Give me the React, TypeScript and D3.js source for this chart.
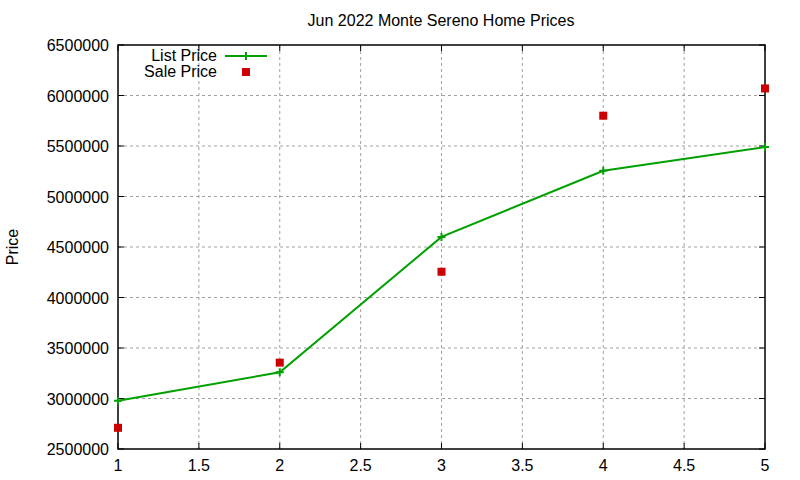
import * as React from 'react'
import * as d3 from 'd3'

const xValues = [1, 2, 3, 4, 5]
const listPrice = [2978000, 3260000, 4600000, 5255000, 5490000]
const salePrice = [2710000, 3355000, 4255000, 5800000, 6070000]
const xTicks = [1, 1.5, 2, 2.5, 3, 3.5, 4, 4.5, 5]
const yTicks = [2500000, 3000000, 3500000, 4000000, 4500000, 5000000, 5500000, 6000000, 6500000]

const W = 800
const H = 480
const left = 118
const right = 765
const top = 45
const bottom = 449
const font = '"Liberation Sans", Arial, sans-serif'

const App = () => {
  const x = d3.scaleLinear().domain([1, 5]).range([left, right])
  const y = d3.scaleLinear().domain([2500000, 6500000]).range([bottom, top])

  const line = d3.line<number>()
    .x((d, i) => x(xValues[i]))
    .y(d => y(d))

  const green = '#00a000'
  const red = '#cc0000'

  return (
    <svg width={W} height={H} style={{position: 'absolute', left: 0, top: 0}} fontFamily={font}>
      <rect width={W} height={H} fill='white' />
      {/* grid */}
      {xTicks.slice(1, -1).map(t => (
        <line key={'gx' + t} x1={x(t)} x2={x(t)} y1={top} y2={bottom} stroke='#a0a0a0' strokeDasharray='3,3' />
      ))}
      {yTicks.slice(1, -1).map(t => (
        <line key={'gy' + t} x1={left} x2={right} y1={y(t)} y2={y(t)} stroke='#a0a0a0' strokeDasharray='3,3' />
      ))}
      {/* ticks */}
      {xTicks.map(t => (
        <g key={'tx' + t}>
          <line x1={x(t)} x2={x(t)} y1={bottom} y2={bottom - 6} stroke='black' />
          <line x1={x(t)} x2={x(t)} y1={top} y2={top + 6} stroke='black' />
          <text x={x(t)} y={bottom + 22} textAnchor='middle' fontSize={16}>{t}</text>
        </g>
      ))}
      {yTicks.map(t => (
        <g key={'ty' + t}>
          <line x1={left} x2={left + 6} y1={y(t)} y2={y(t)} stroke='black' />
          <line x1={right} x2={right - 6} y1={y(t)} y2={y(t)} stroke='black' />
          <text x={left - 9} y={y(t) + 6} textAnchor='end' fontSize={16}>{t}</text>
        </g>
      ))}
      <rect x={left} y={top} width={right - left} height={bottom - top} fill='none' stroke='black' strokeWidth={1.5} />
      {/* list price */}
      <path d={line(listPrice) ?? ''} fill='none' stroke={green} strokeWidth={2} />
      {listPrice.map((v, i) => (
        <path key={'lp' + i} d={`M${x(xValues[i]) - 4},${y(v)}h8M${x(xValues[i])},${y(v) - 4}v8`} stroke={green} strokeWidth={2} />
      ))}
      {/* sale price */}
      {salePrice.map((v, i) => (
        <rect key={'sp' + i} x={x(xValues[i]) - 4} y={y(v) - 4} width={8} height={8} fill={red} />
      ))}
      {/* title and labels */}
      <text x={441} y={26} textAnchor='middle' fontSize={16}>Jun 2022 Monte Sereno Home Prices</text>
      <text transform='translate(18,247) rotate(-90)' textAnchor='middle' fontSize={16}>Price</text>
      {/* legend */}
      <text x={217} y={61} textAnchor='end' fontSize={16}>List Price</text>
      <line x1={225} x2={267} y1={56} y2={56} stroke={green} strokeWidth={2} />
      <path d='M242,56h8M246,52v8' stroke={green} strokeWidth={2} />
      <text x={217} y={77} textAnchor='end' fontSize={16}>Sale Price</text>
      <rect x={242} y={68} width={8} height={8} fill={red} />
    </svg>
  )
}

export default App
